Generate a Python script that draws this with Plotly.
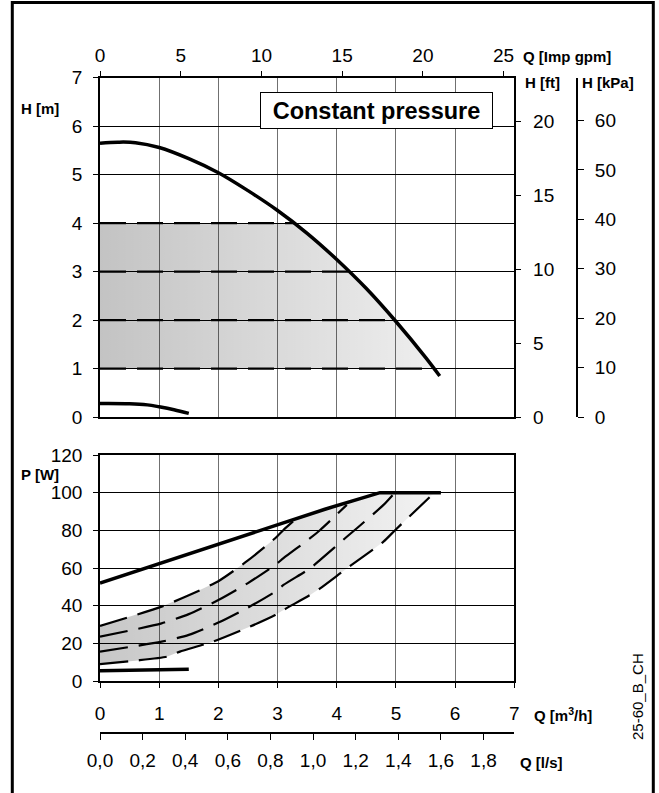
import numpy as np
import plotly.graph_objects as go

FONT = "Liberation Sans, Arial, sans-serif"
W, H = 659, 793

# ---------------- data (Q in m3/h) ----------------
# head curves, H in m
q_hmax = [0, 0.3, 0.6, 1.0, 1.5, 2.0, 2.5, 3.0, 3.5, 4.0, 4.5, 5.0, 5.5, 5.74]
h_max = [5.65, 5.67, 5.66, 5.56, 5.33, 5.04, 4.67, 4.26, 3.79, 3.25, 2.65, 1.97, 1.23, 0.845]
q_hmin = [0, 0.5, 0.8, 1.0, 1.25, 1.5]
h_min = [0.28, 0.275, 0.25, 0.21, 0.15, 0.075]
h_const = [1, 2, 3, 4]

# power curves, P in W
q_pmax = [0, 1.0, 2.0, 2.87, 3.8, 4.73, 5.76]
p_max = [52, 62.3, 72.5, 81.8, 91.2, 100, 100]
q_pmin = [0, 1.5]
p_min = [5.5, 6.3]
q_p1 = [0, 0.6, 1.13, 1.35, 1.91, 2.53, 2.96, 3.1, 3.55, 3.72, 4.17, 4.79, 4.99, 5.64]
p_p1 = [9, 10.8, 12.9, 15.6, 20.9, 28.8, 35, 37.7, 45.7, 49.2, 59.8, 74, 80.2, 99.7]
q_p2 = [0, 1.04, 1.5, 2.0, 2.5, 2.96, 3.1, 3.55, 3.72, 4.17, 4.34, 4.79, 4.98]
p_p2 = [15.6, 20.9, 24.5, 31, 39, 47.4, 51, 59.8, 64.3, 76.6, 81.1, 93.5, 100]
q_p3 = [0, 1.04, 1.5, 2.0, 2.5, 2.96, 3.1, 3.55, 3.72, 4.17]
p_p3 = [23.5, 30.6, 35.5, 43, 52, 61.6, 65.2, 75.8, 80.2, 93.5]
q_p4 = [0, 1.04, 1.5, 2.0, 2.5, 2.96, 3.1, 3.29]
p_p4 = [29.2, 39.5, 45.5, 53, 64, 75.8, 80.2, 85.5]

# axis ticks
q_ticks = [0, 1, 2, 3, 4, 5, 6, 7]
gpm_ticks = [0, 5, 10, 15, 20, 25]
ft_ticks = [0, 5, 10, 15, 20]
kpa_ticks = [0, 10, 20, 30, 40, 50, 60]
h_ticks = [0, 1, 2, 3, 4, 5, 6, 7]
p_ticks = [0, 20, 40, 60, 80, 100, 120]
ls_ticks = [0.0, 0.2, 0.4, 0.6, 0.8, 1.0, 1.2, 1.4, 1.6, 1.8]
ls_text = ["0,0", "0,2", "0,4", "0,6", "0,8", "1,0", "1,2", "1,4", "1,6", "1,8"]

GPM = 1000 / 4.54609 / 60   # Imp gpm per m3/h
FT = 0.3048                 # m per ft
KPA = 9.80665               # kPa per m
LS = 3.6                    # m3/h per l/s


def px(x):
    return x / W


def py(y):
    return 1 - y / H


X0, X1 = px(100), px(514.3)
YT0, YT1 = py(417), py(77.7)
YB0, YB1 = py(681), py(455)

fig = go.Figure()

# ---- top: shaded operating area ----
qa = np.array(q_hmax)
ha = np.array(h_max)


def q_at(h):
    return float(np.interp(h, ha[2:][::-1], qa[2:][::-1]))


sel = (ha < 4) & (ha > 1)
sx = [0, q_at(4)] + list(qa[sel]) + [q_at(1), 0]
sy = [4, 4] + list(ha[sel]) + [1, 1]
fig.add_trace(go.Scatter(x=sx, y=sy, xaxis="x", yaxis="y", mode="lines", fill="toself",
                         line=dict(width=0), hoverinfo="skip", showlegend=False,
                         fillgradient=dict(type="horizontal",
                                           colorscale=[[0, "rgba(0,0,0,0.235)"], [1, "rgba(0,0,0,0.065)"]])))
# constant pressure dashed lines
for h in h_const:
    fig.add_trace(go.Scatter(x=[0, q_at(h)], y=[h, h], xaxis="x", yaxis="y", mode="lines",
                             line=dict(color="black", width=2.2, dash="26px,11px"),
                             hoverinfo="skip", showlegend=False))
fig.add_trace(go.Scatter(x=q_hmax, y=h_max, xaxis="x", yaxis="y", mode="lines",
                         line=dict(color="black", width=3.5, shape="spline"), showlegend=False))
fig.add_trace(go.Scatter(x=q_hmin, y=h_min, xaxis="x", yaxis="y", mode="lines",
                         line=dict(color="black", width=3.5, shape="spline"), showlegend=False))

# ---- bottom: shaded power area ----
qpm = np.array(q_pmax)
ppm = np.array(p_max)
selp = (qpm > q_p4[-1]) & (qpm < q_p1[-1]) & (np.arange(len(qpm)) <= int(np.argmax(ppm)))
bx = list(q_p1) + list(qpm[selp][::-1]) + list(q_p4[::-1])
by = list(p_p1) + list(ppm[selp][::-1]) + list(p_p4[::-1])
fig.add_trace(go.Scatter(x=bx, y=by, xaxis="x2", yaxis="y2", mode="lines", fill="toself",
                         line=dict(width=0), hoverinfo="skip", showlegend=False,
                         fillgradient=dict(type="horizontal",
                                           colorscale=[[0, "rgba(0,0,0,0.22)"], [1, "rgba(0,0,0,0.05)"]])))
for qq, pp in [(q_p1, p_p1), (q_p2, p_p2), (q_p3, p_p3), (q_p4, p_p4)]:
    fig.add_trace(go.Scatter(x=qq, y=pp, xaxis="x2", yaxis="y2", mode="lines",
                             line=dict(color="black", width=2.2, dash="28px,11px", shape="spline", smoothing=0.6),
                             hoverinfo="skip", showlegend=False))
fig.add_trace(go.Scatter(x=q_pmax, y=p_max, xaxis="x2", yaxis="y2", mode="lines",
                         line=dict(color="black", width=3.5), showlegend=False))
fig.add_trace(go.Scatter(x=q_pmin, y=p_min, xaxis="x2", yaxis="y2", mode="lines",
                         line=dict(color="black", width=3.5), showlegend=False))

# invisible helpers so the secondary scales are drawn
for xa, ya in [("x3", "y"), ("x", "y3"), ("x", "y4"), ("x4", "y2")]:
    fig.add_trace(go.Scatter(x=[0], y=[0], xaxis=xa, yaxis=ya, mode="markers",
                             marker=dict(opacity=0), hoverinfo="skip", showlegend=False))

tf = dict(family=FONT, size=19, color="black")
common = dict(zeroline=False, tickcolor="black", tickwidth=1, tickfont=tf, linecolor="black",
              automargin=False)

fig.update_layout(
    template="none",
    width=W, height=H, margin=dict(l=0, r=0, t=0, b=0, pad=0, autoexpand=False), autosize=False,
    paper_bgcolor="white", plot_bgcolor="white", showlegend=False,
    font=dict(family=FONT, color="black"),
    xaxis=dict(domain=[X0, X1], anchor="y", range=[0, 7], tickvals=q_ticks, showticklabels=False,
               ticks="", showgrid=True, gridcolor="#707070", gridwidth=1.2, showline=True,
               linewidth=1.5, mirror=True, **common),
    yaxis=dict(domain=[YT0, YT1], anchor="x", range=[0, 7], tickvals=h_ticks, ticks="outside", ticklen=5,
               showgrid=True, gridcolor="black", gridwidth=1, showline=True, linewidth=1.5, mirror=True,
               ticklabelstandoff=7, **common),
    xaxis3=dict(overlaying="x", side="top", anchor="y", range=[0, 7 * GPM], tickvals=gpm_ticks,
                ticks="outside", ticklen=6, showgrid=False, showline=False, ticklabelstandoff=1, **common),
    yaxis3=dict(overlaying="y", side="right", anchor="x", range=[0, 7 / FT], tickvals=ft_ticks,
                ticks="outside", ticklen=6, showgrid=False, showline=False, ticklabelstandoff=8, **common),
    yaxis4=dict(overlaying="y", side="right", anchor="free", position=px(577.3), range=[0, 7 * KPA],
                tickvals=kpa_ticks, ticks="outside", ticklen=6, showgrid=False, showline=True,
                linewidth=1.5, ticklabelstandoff=7, **common),
    xaxis2=dict(domain=[X0, X1], anchor="y2", range=[0, 7], tickvals=q_ticks, ticks="outside", ticklen=5,
                showgrid=True, gridcolor="#707070", gridwidth=1.2, showline=True, linewidth=1.5,
                mirror=True, ticklabelstandoff=9, **common),
    yaxis2=dict(domain=[YB0, YB1], anchor="x2", range=[0, 120], tickvals=p_ticks, ticks="outside",
                ticklen=5, showgrid=True, gridcolor="black", gridwidth=1, showline=True, linewidth=1.5,
                mirror=True, ticklabelstandoff=7, **common),
    xaxis4=dict(overlaying="x2", anchor="free", position=py(733), side="bottom", range=[0, 7 / LS],
                tickvals=ls_ticks, ticktext=ls_text, ticks="outside", ticklen=6, showgrid=False,
                showline=True, linewidth=1.5, ticklabelstandoff=4, **common),
)

bold = dict(family=FONT, size=15, color="black")
ann = [
    dict(text="<b>H [m]</b>", x=px(40), y=py(109), xanchor="center"),
    dict(text="<b>P [W]</b>", x=px(40), y=py(474), xanchor="center"),
    dict(text="<b>Q [Imp gpm]</b>", x=px(521), y=py(56.5), xanchor="left"),
    dict(text="<b>H [ft]</b>", x=px(542), y=py(83), xanchor="center"),
    dict(text="<b>H [kPa]</b>", x=px(608), y=py(83), xanchor="center"),
    dict(text="<b>Q [m<sup>3</sup>/h]</b>", x=px(532), y=py(714), xanchor="left"),
    dict(text="<b>Q [l/s]</b>", x=px(518), y=py(762), xanchor="left"),
]
for a in ann:
    fig.add_annotation(xref="paper", yref="paper", yanchor="middle", showarrow=False, font=bold, **a)

fig.add_annotation(xref="paper", yref="paper", x=px(376), y=py(110.5), xanchor="center", yanchor="middle",
                   text="<b>Constant pressure</b>", showarrow=False, width=229, height=33,
                   bgcolor="white", bordercolor="black", borderwidth=1, borderpad=1,
                   font=dict(family=FONT, size=23.5, color="black"))
fig.add_annotation(xref="paper", yref="paper", x=px(637), y=py(697), xanchor="center", yanchor="middle",
                   text="25-60_B_CH", textangle=-90, showarrow=False,
                   font=dict(family=FONT, size=15, color="black"))

fig.add_shape(type="rect", xref="paper", yref="paper", x0=px(12.3), x1=px(653.3), y0=-0.02, y1=py(2.5),
              line=dict(color="black", width=3), fillcolor="rgba(0,0,0,0)")

fig.write_html(
    "out.html",
    config={"displayModeBar": False},
    post_script="document.body.style.margin='0';document.body.style.padding='0';"
                "document.documentElement.style.overflow='hidden';document.body.style.overflow='hidden';",
)
